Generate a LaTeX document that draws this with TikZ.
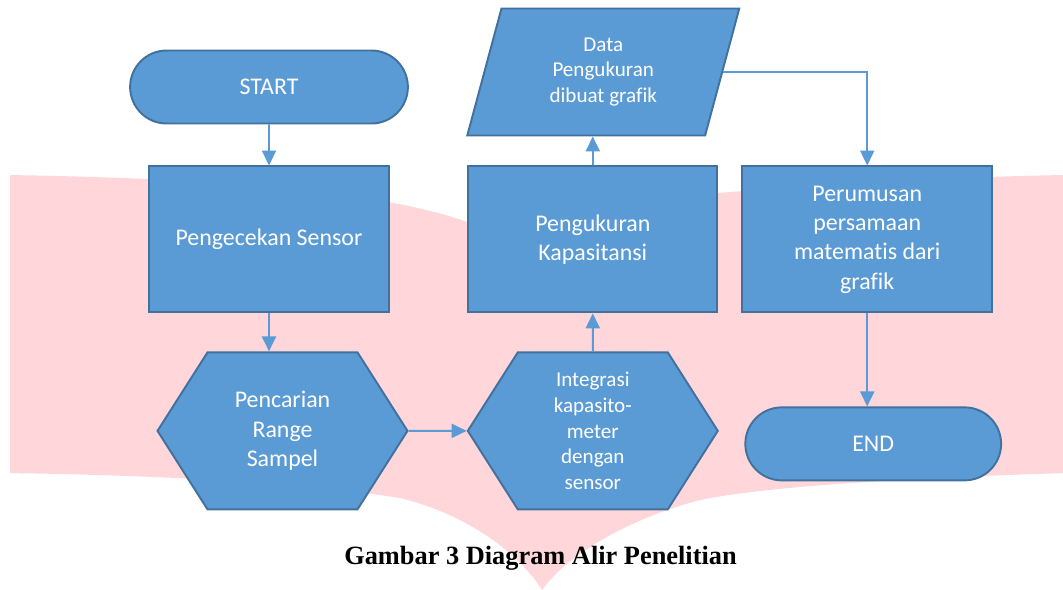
\documentclass[tikz,border=0pt]{standalone}
\usepackage{fontspec}
\setmainfont{Carlito}[Ligatures={NoCommon}]
\newfontfamily\capfont{Liberation Serif}
\usetikzlibrary{arrows.meta,positioning,shapes.misc,shapes.geometric,shapes.symbols}
\definecolor{boxblue}{HTML}{5B9BD5}
\definecolor{boxline}{HTML}{41719C}
\definecolor{logopink}{RGB}{255,215,219}

\begin{document}
\begin{tikzpicture}[-{Triangle[width=8pt,length=8.5pt]},line width=1.1pt,
		node distance=0.82cm,
		base/.style={draw=boxline,fill=boxblue,text=white,align=center,
			font=\fontsize{13.6}{16.7}\selectfont},
		terminal/.style={base,rounded rectangle,minimum width=5.79cm,minimum height=1.46cm},
		process/.style={base,rectangle,minimum width=5cm,minimum height=2.92cm},
		prep/.style={base,signal,signal to=east and west,signal pointer angle=115,
			minimum width=5cm,minimum height=3.14cm,inner xsep=0pt},
		io/.style={base,trapezium,trapezium left angle=67,trapezium right angle=113,
			trapezium stretches body,minimum width=5.44cm,minimum height=2.54cm,
			font=\fontsize{12}{14.7}\selectfont},
		flow/.style={color=boxblue}]
		
		\useasboundingbox (0,0) rectangle (21.26,-11.8);
		
		% logo behind the chart
		\begin{scope}[-,x=0.02cm,y=-0.02cm]
			\fill[logopink] (10,175) .. controls (200,178) and (380,190) .. (467,222)
			-- (540,250) -- (716,193) .. controls (850,183) and (950,177) .. (1063,175)
			-- (1063,473) .. controls (900,478) and (760,487) .. (700,500)
			.. controls (640,515) and (570,550) .. (542,590)
			.. controls (520,555) and (470,515) .. (400,498)
			.. controls (300,482) and (150,475) .. (10,473) -- cycle;
		\end{scope}
		
		\node[terminal] (start) at (5.38,-1.74) {START};
		\node[process,minimum width=4.8cm] (cek) [below=of start] {Pengecekan Sensor};
		\node[prep] (cari) [below=0.76cm of cek,xshift=0.27cm] {Pencarian\\Range\\Sampel};
		\node[prep,font=\fontsize{12}{14.7}\selectfont] (integ) [right=1.16cm of cari]
			{Integrasi\\kapasito-\\meter\\dengan\\sensor};
		\node[process,minimum width=4.98cm] (ukur) [above=0.76cm of integ] {Pengukuran\\Kapasitansi};
		\node[io] (data) [above=0.58cm of ukur,xshift=0.21cm] {Data\\Pengukuran\\dibuat grafik};
		\node[process] (rumus) [right=0.46cm of ukur] {Perumusan\\persamaan\\matematis dari\\grafik};
		\node[terminal,minimum width=5.35cm] (end) [below=1.86cm of rumus,xshift=0.12cm] {END};
		
		\node (cap) at (10.81,-11.16) {\capfont\bfseries\fontsize{15}{18}\selectfont Gambar 3 Diagram Alir Penelitian};
		
		\path[flow]
		(start) edge[flow] (cek)
		(cek.south) edge[flow] (cek.south |- cari.north)
		(cari) edge[flow] (integ)
		(integ) edge[flow] (ukur)
		(ukur.north) edge[flow] (ukur.north |- data.south)
		(rumus.south) edge[flow] (rumus.south |- end.north);
		\draw[flow] (data.east) -| (rumus.north);
	\end{tikzpicture}
\end{document}
